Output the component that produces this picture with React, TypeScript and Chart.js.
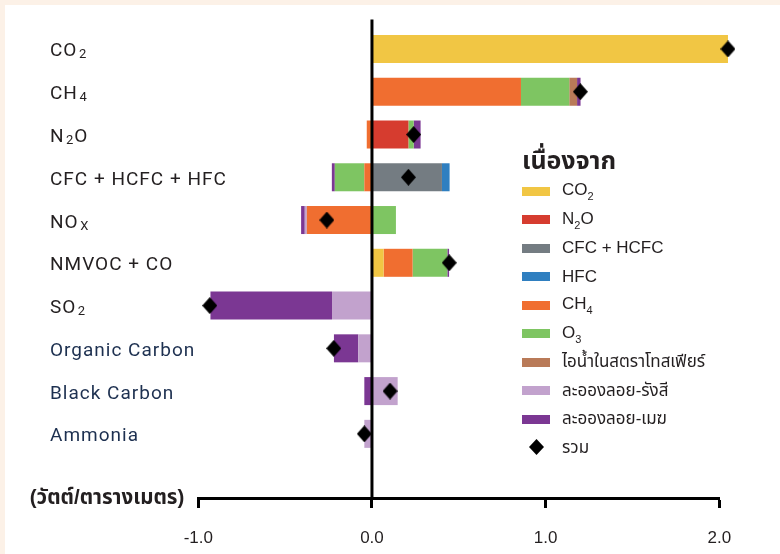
import React, { useEffect, useRef } from 'react';
import { Chart, registerables } from 'chart.js';

Chart.register(...registerables);

// ---- data ----  ("_" marks the next character as a subscript)
const categories = ['CO_2', 'CH_4', 'N_2O', 'CFC + HCFC + HFC', 'NO_X', 'NMVOC + CO', 'SO_2', 'Organic Carbon', 'Black Carbon', 'Ammonia'];
const xTicks = [-1, 0, 1, 2];

const seriesNames = ['CO_2', 'N_2O', 'CFC + HCFC', 'HFC', 'CH_4', 'O_3', 'ไอน้ำในสตราโทสเฟียร์', 'ละอองลอย-รังสี', 'ละอองลอย-เมฆ'];
const co2 = [2.05, 0, 0, 0, 0, 0.067, 0, 0, 0, 0];
const n2o = [0, 0, 0.21, 0, 0, 0, 0, 0, 0, 0];
const cfcHcfc = [0, 0, 0, 0.403, 0, 0, 0, 0, 0, 0];
const hfc = [0, 0, 0, 0.044, 0, 0, 0, 0, 0, 0];
const ch4 = [0, 0.858, -0.03, -0.044, -0.375, 0.167, 0, 0, 0, 0];
const o3 = [0, 0.278, 0.03, -0.17, 0.138, 0.2, 0, 0, 0, 0];
const stratH2O = [0, 0.045, 0, 0, 0, 0, 0, 0, 0, 0];
const aerosolRad = [0, 0, 0, 0, -0.012, 0, -0.23, -0.079, 0.148, -0.044];
const aerosolCloud = [0, 0.02, 0.04, -0.017, -0.021, 0.01, -0.7, -0.14, -0.044, 0];
const totalName = 'รวม';
const total = [2.05, 1.2, 0.24, 0.21, -0.26, 0.445, -0.934, -0.22, 0.104, -0.044];
const axisTitle = '(วัตต์/ตารางเมตร)';
const legendTitle = 'เนื่องจาก';

// ---- styles ----
const seriesColors = ['#f1c644', '#d63c2f', '#747c82', '#2f7fc0', '#f06e30', '#7ec562', '#b97a58', '#c2a2cd', '#7b3793'];
const seriesData = [co2, n2o, cfcHcfc, hfc, ch4, o3, stratH2O, aerosolRad, aerosolCloud];
const labelFont = 'Roboto, "Noto Sans", sans-serif';
const arialFont = '"Liberation Sans", Arial, "Noto Sans Thai", "Noto Sans", sans-serif';

function splitSub(text: string) {
  const parts: { t: string; sub: boolean }[] = [];
  let buf = '';
  for (let i = 0; i < text.length; i++) {
    if (text[i] === '_' && i + 1 < text.length) {
      if (buf) parts.push({ t: buf, sub: false });
      buf = '';
      parts.push({ t: text[i + 1], sub: true });
      i++;
    } else buf += text[i];
  }
  if (buf) parts.push({ t: buf, sub: false });
  return parts;
}

function makeDiamond(w: number, h: number) {
  const c = document.createElement('canvas');
  c.width = w;
  c.height = h;
  const g = c.getContext('2d')!;
  g.fillStyle = '#000';
  g.beginPath();
  g.moveTo(w / 2, 0);
  g.lineTo(w, h / 2);
  g.lineTo(w / 2, h);
  g.lineTo(0, h / 2);
  g.closePath();
  g.fill();
  return c;
}

function Label({ text }: { text: string }) {
  return (
    <>
      {splitSub(text).map((p, k) =>
        p.sub ? (
          <sub key={k} style={{ fontSize: 11, verticalAlign: -5 }}>
            {p.t}
          </sub>
        ) : (
          <React.Fragment key={k}>{p.t}</React.Fragment>
        )
      )}
    </>
  );
}

export default function App() {
  const ref = useRef<HTMLCanvasElement>(null);

  useEffect(() => {
    const canvas = ref.current!;
    const diamond = makeDiamond(15, 17);

    const plugin = {
      id: 'extras',
      afterDatasetsDraw(chart: any) {
        const ctx = chart.ctx;
        const x = chart.scales.x.getPixelForValue(0);
        const { top, bottom } = chart.chartArea;
        ctx.save();
        ctx.strokeStyle = '#000';
        ctx.lineWidth = 3;
        ctx.beginPath();
        ctx.moveTo(x, top - 8);
        ctx.lineTo(x, bottom);
        ctx.stroke();
        ctx.restore();
      },
      afterDraw(chart: any) {
        const ctx = chart.ctx;
        const ys = chart.scales.y;
        ctx.save();
        // category labels with real subscripts
        ctx.textAlign = 'left';
        ctx.textBaseline = 'alphabetic';
        ctx.letterSpacing = '1px';
        categories.forEach((lab, i) => {
          const yc = ys.getPixelForValue(i);
          const base = yc + 7.5;
          let x = 50;
          ctx.fillStyle = i < 7 ? '#231f20' : '#1d3050';
          for (const p of splitSub(lab)) {
            if (p.sub) {
              x += 1.5;
              ctx.font = '13px ' + labelFont;
              ctx.fillText(p.t, x, base + 2);
            } else {
              ctx.font = '19px ' + labelFont;
              ctx.fillText(p.t, x, base);
            }
            x += ctx.measureText(p.t).width;
          }
        });
        // axis unit title
        ctx.letterSpacing = '0px';
        ctx.font = 'bold 20.5px ' + arialFont;
        ctx.fillStyle = '#231f20';
        ctx.textAlign = 'right';
        ctx.textBaseline = 'middle';
        ctx.fillText(axisTitle, chart.chartArea.left - 14, chart.chartArea.bottom);
        ctx.restore();
      },
    };

    const chart = new Chart(canvas, {
      type: 'bar',
      data: {
        labels: [...categories, ''],
        datasets: [
          {
            type: 'line',
            label: totalName,
            data: total,
            showLine: false,
            pointStyle: diamond as any,
            pointRadius: 8,
            stack: 'total',
            order: -1,
            clip: false as any,
          } as any,
          ...seriesNames.map((name, i) => ({
            type: 'bar',
            label: name,
            data: seriesData[i],
            backgroundColor: seriesColors[i],
            borderWidth: 0,
            stack: 'bars',
            barPercentage: 0.655,
            categoryPercentage: 1,
            clip: false as any,
          })),
        ],
      },
      options: {
        indexAxis: 'y',
        responsive: false,
        animation: false,
        events: [],
        layout: { padding: { top: 27.6, left: 50, right: 60.7, bottom: 0 } },
        plugins: { legend: { display: false }, tooltip: { enabled: false } },
        scales: {
          x: {
            type: 'linear',
            stacked: true,
            min: -1,
            max: 2,
            afterFit: (s: any) => {
              s.height = 56;
            },
            afterBuildTicks: (s: any) => {
              s.ticks = xTicks.map((v) => ({ value: v }));
            },
            border: { display: true, color: '#000', width: 3 },
            grid: {
              drawOnChartArea: false,
              drawTicks: true,
              tickLength: 10,
              tickColor: '#000',
              tickWidth: 3,
            },
            ticks: {
              padding: 20,
              color: '#231f20',
              font: { family: arialFont, size: 17 },
              callback: (v: any) => Number(v).toFixed(1),
            },
          },
          y: {
            type: 'category',
            stacked: true,
            afterFit: (s: any) => {
              s.width = 148.3;
            },
            border: { display: false },
            grid: { display: false },
            ticks: { display: false },
          },
        },
      },
      plugins: [plugin],
    } as any);

    return () => chart.destroy();
  }, []);

  return (
    <div style={{ position: 'fixed', left: 0, top: 0, width: 780, height: 554, background: '#fcf1e7', overflow: 'hidden' }}>
      <div style={{ position: 'absolute', left: 5, top: 5, right: 0, bottom: 0, background: '#fff' }} />
      <canvas ref={ref} width={780} height={554} style={{ position: 'absolute', left: 0, top: 0 }} />
      <div style={{ position: 'absolute', left: 522, top: 0, fontFamily: arialFont, color: '#231f20' }}>
        <div style={{ position: 'absolute', left: 0, top: 145, font: 'bold 25px ' + arialFont, whiteSpace: 'nowrap', lineHeight: '30px' }}>
          {legendTitle}
        </div>
        {seriesNames.map((name, i) => (
          <div
            key={name}
            style={{ position: 'absolute', left: 0, top: 177 + i * 28.5, height: 28.5, display: 'flex', alignItems: 'center', whiteSpace: 'nowrap', fontSize: 17 }}
          >
            <span style={{ display: 'inline-block', width: 28, height: 9, background: seriesColors[i], marginRight: 12 }} />
            <span>
              <Label text={name} />
            </span>
          </div>
        ))}
        <div
          style={{ position: 'absolute', left: 0, top: 177 + seriesNames.length * 28.5, height: 28.5, display: 'flex', alignItems: 'center', whiteSpace: 'nowrap', fontSize: 17 }}
        >
          <span style={{ display: 'inline-block', width: 28, height: 17, marginRight: 12, position: 'relative' }}>
            <svg width="15" height="16" style={{ position: 'absolute', left: 7, top: 0 }}>
              <polygon points="7.5,0 15,8 7.5,16 0,8" fill="#000" />
            </svg>
          </span>
          <span>{totalName}</span>
        </div>
      </div>
    </div>
  );
}
